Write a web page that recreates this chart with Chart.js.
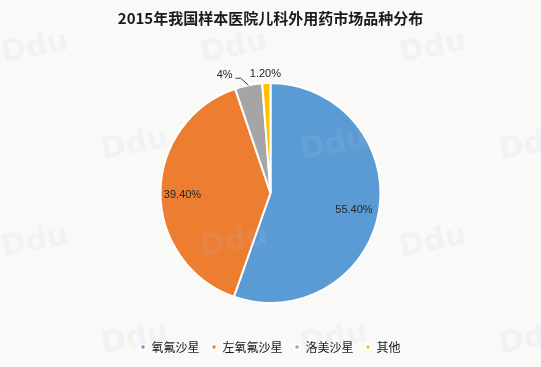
<!DOCTYPE html>
<html>
<head>
<meta charset="utf-8">
<script src="https://cdn.jsdelivr.net/npm/chart.js@4.4.1/dist/chart.umd.min.js"></script>
<style>
  html, body { margin: 0; padding: 0; background: #f9f9f7; }
  #wrap { width: 541px; height: 367px; }
</style>
</head>
<body>
<div id="wrap"><canvas id="piechart"></canvas></div>
<script>
// data
var drugNames = ['氧氟沙星', '左氧氟沙星', '洛美沙星', '其他'];
var shareValues = [55.4, 39.4, 4, 1.2];
var shareLabels = ['55.40%', '39.40%', '4%', '1.20%'];
var sliceColors = ['#5b9bd5', '#ed7d31', '#a5a5a5', '#ffc000'];

var bgPlugin = {
    id: 'bg',
    beforeDraw: function(chart) {
        var c = chart.ctx;
        c.save();
        c.fillStyle = '#f9f9f7';
        c.fillRect(0, 0, chart.width, chart.height);
        c.restore();
    }
};

// faint "Ddu" watermark grid over everything
var watermarkPlugin = {
    id: 'watermark',
    afterDraw: function(chart) {
        var c = chart.ctx;
        c.save();
        c.font = 'bold 30px "DejaVu Sans", sans-serif';
        c.textAlign = 'center';
        c.textBaseline = 'middle';
        c.fillStyle = 'rgba(200, 200, 215, 0.12)';
        for (var row = 0; row < 4; row++) {
            var y = 48 + row * 97;
            var x0 = row % 2 === 0 ? 35 : 135;
            for (var x = x0; x < 600; x += 199) {
                c.save();
                c.translate(x, y);
                c.rotate(-0.2);
                c.fillText('Ddu', 0, 0);
                c.restore();
            }
        }
        c.restore();
    }
};

// slice labels, placed from each arc's own geometry
var labelPlugin = {
    id: 'sliceLabels',
    afterDatasetsDraw: function(chart) {
        var c = chart.ctx;
        var arcs = chart.getDatasetMeta(0).data;
        c.save();
        c.font = '11px "Liberation Sans", Arial, sans-serif';
        c.fillStyle = '#262626';
        c.textBaseline = 'middle';
        arcs.forEach(function(arc, i) {
            var mid = (arc.startAngle + arc.endAngle) / 2;
            var r = arc.outerRadius;
            if (i < 2) {
                var k = i === 0 ? 0.77 : 0.8;
                c.textAlign = 'center';
                c.fillText(shareLabels[i], arc.x + Math.cos(mid) * r * k, arc.y + Math.sin(mid) * r * k + 3);
            } else {
                var ex = arc.x + Math.cos(mid) * r;
                var ey = arc.y + Math.sin(mid) * r;
                if (i === 2) {
                    c.strokeStyle = '#404040';
                    c.lineWidth = 1;
                    c.beginPath();
                    c.moveTo(ex, ey);
                    c.lineTo(ex - 8, ey - 7);
                    c.lineTo(ex - 13, ey - 7);
                    c.stroke();
                    c.textAlign = 'right';
                    c.fillText(shareLabels[i], ex - 16, ey - 10);
                } else {
                    c.textAlign = 'center';
                    c.fillText(shareLabels[i], ex - 1, ey - 9);
                }
            }
        });
        c.restore();
    }
};

var ctx = document.getElementById('piechart').getContext('2d');
var myChart = new Chart(ctx, {
    type: 'pie',
    data: {
        labels: drugNames,
        datasets: [{
            data: shareValues,
            backgroundColor: sliceColors,
            borderColor: '#ffffff',
            borderWidth: 2,
            radius: 110
        }]
    },
    options: {
        responsive: true,
        maintainAspectRatio: false,
        animation: false,
        layout: { padding: { bottom: 4 } },
        plugins: {
            title: {
                display: true,
                text: '2015年我国样本医院儿科外用药市场品种分布',
                color: '#1a1a1a',
                font: { family: '"Noto Sans CJK SC", sans-serif', size: 15, weight: 'bold' },
                padding: { top: 9, bottom: 30 }
            },
            legend: {
                position: 'bottom',
                labels: {
                    boxWidth: 5,
                    boxHeight: 5,
                    padding: 12,
                    color: '#1a1a1a',
                    font: { family: '"Noto Sans CJK SC", sans-serif', size: 12 }
                }
            },
            tooltip: { enabled: false }
        }
    },
    plugins: [bgPlugin, labelPlugin, watermarkPlugin]
});
</script>
</body>
</html>
